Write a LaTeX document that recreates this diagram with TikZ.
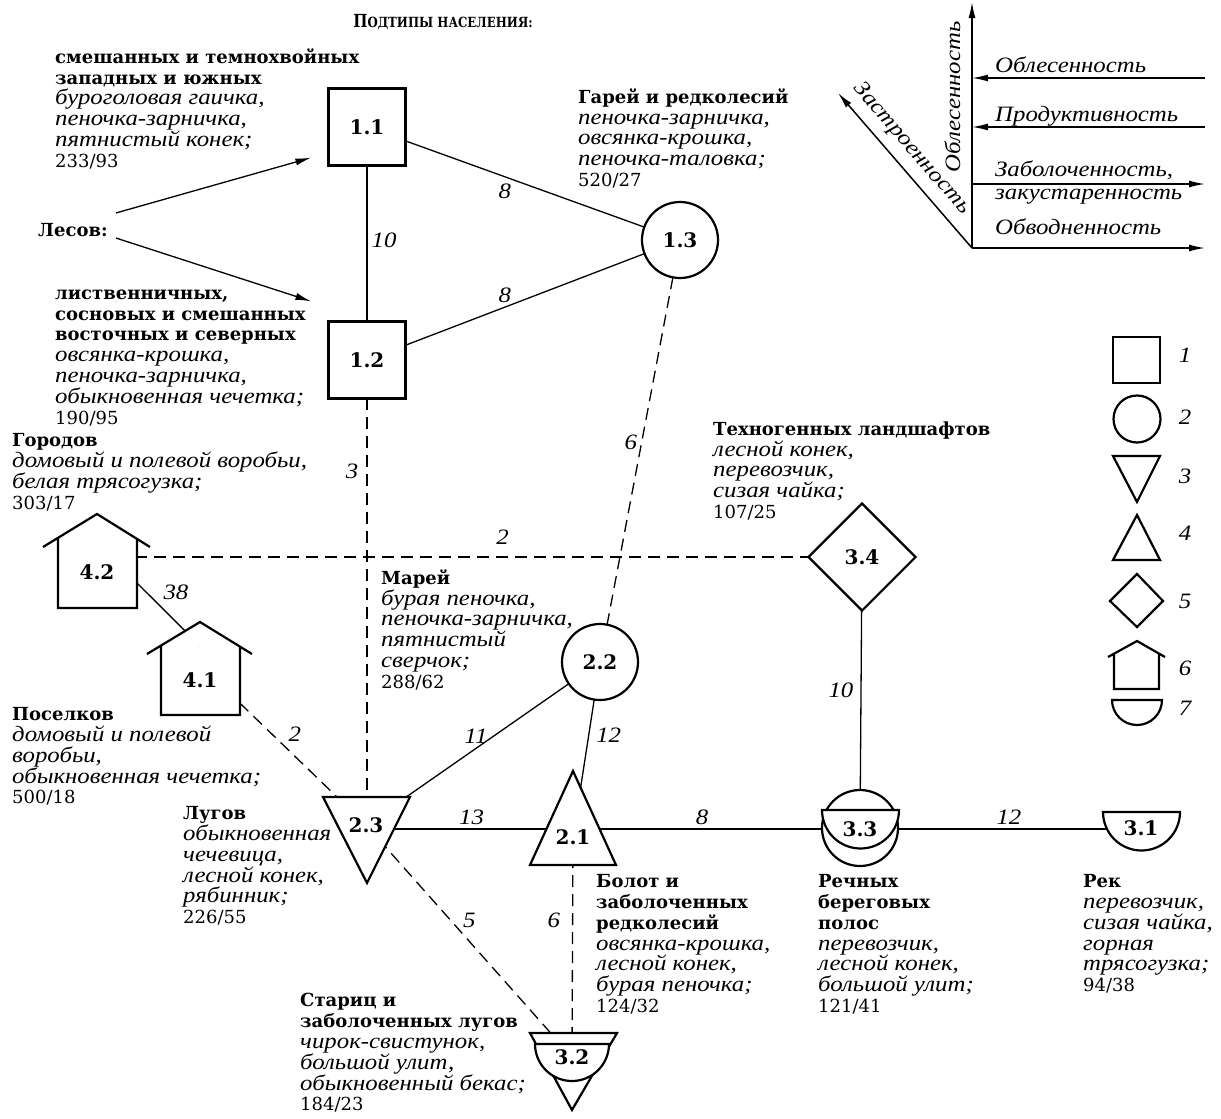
\documentclass[tikz,border=0pt]{standalone}
\usepackage{fontspec}
\setmainfont{DejaVu Serif}[ItalicFont={Liberation Serif Italic},
  ItalicFeatures={Scale=1.22, FakeStretch=1.13}]
\newfontfamily\ttlfont{DejaVu Serif}[FakeStretch=0.84]
\usetikzlibrary{shapes.geometric}
\usetikzlibrary{arrows.meta}
\usetikzlibrary{backgrounds}

\tikzset{
  shp/.style={line width=2.2pt, fill=white},
  conn/.style={line width=1.3pt},
  broken/.style={conn, dash pattern=on 12pt off 7pt},
  axisline/.style={line width=1.5pt, -{Latex[length=16pt,width=7pt]}},
  lbl/.style={font=\fontsize{20}{24}\selectfont\bfseries, inner sep=0pt},
  sq/.style={shp, draw, rectangle, minimum size=77pt, lbl},
  circ/.style={shp, draw, circle, minimum size=76pt, lbl},
  dmd/.style={shp, draw, diamond, minimum size=108pt, lbl},
  txt/.style={align=left, anchor=north west, inner sep=0pt,
    font=\fontsize{18}{20.8}\selectfont, execute at begin node=\strut},
  wt/.style={font=\fontsize{18}{20.8}\selectfont\itshape, inner sep=4pt},
  ax/.style={font=\fontsize{18}{23}\selectfont\itshape, inner sep=0pt},
}

\begin{document}
\begin{tikzpicture}[x=1pt, y=-1pt]
  \useasboundingbox (0,0) rectangle (1221,1119);

  \node[font=\ttlfont\bfseries] (title) at (443,22)
    {\fontsize{18}{20}\selectfont П\fontsize{14}{16}\selectfont ОДТИПЫ НАСЕЛЕНИЯ:};

  % subtypes
  \node[sq] (n11) at (367,127) {1.1};
  \node[sq] (n12) at (367,360) {1.2};
  \node[circ] (n13) at (680,240) {1.3};
  \node[circ] (n22) at (600,662) {2.2};
  \node[dmd] (n34) at (862,557) {3.4};

  \draw[shp] (323,797) -- (410,797) -- (367,883) -- cycle;
  \node[lbl] (n23) at (366,825) {2.3};
  \draw[shp] (573,771) -- (616,865) -- (530,865) -- cycle;
  \node[lbl] (n21) at (573,837) {2.1};

  \draw[shp] (860,828) circle (38);
  \draw[shp] (822,810) -- (899,810) arc (0:180:38.5) -- cycle;
  \node[lbl] (n33) at (860,829) {3.3};
  \draw[shp] (1103,812) -- (1180,812) arc (0:180:38.5) -- cycle;
  \node[lbl] (n31) at (1141,828) {3.1};
  \draw[shp] (530,1033) -- (617,1033) -- (572,1110) -- cycle;
  \draw[shp] (535,1044) -- (609,1044) arc (0:180:37) -- cycle;
  \node[lbl] (n32) at (572,1057) {3.2};

  \draw[shp] (43,547) -- (97,514) -- (150,547) (58,538) -- (58,608) -- (137,608) -- (137,538);
  \node[lbl, minimum width=79pt, minimum height=70pt] (n42) at (97,572) {4.2};
  \draw[shp] (147,654) -- (200,622) -- (252,654) (161,646) -- (161,715) -- (240,715) -- (240,646);
  \node[lbl, minimum width=79pt, minimum height=68pt] (n41) at (200,680) {4.1};

  % links
  \begin{scope}[on background layer]
    \draw[conn] (n11.center) -- node[wt, pos=.485, right] {10} (n12.center);
    \draw[conn] (n11.center) -- node[wt, pos=.44, below=3pt] {8} (n13.center);
    \draw[conn] (n12.center) -- node[wt, pos=.44, above] {8} (n13.center);
    \draw[broken] (n13.center) -- node[wt, pos=.48, left] {6} (n22.center);
    \draw[broken] (n12.center) -- node[wt, pos=.24, left=4pt] {3} (n12.center |- n23.center);
    \draw[broken] (n42.center |- n34.center) -- node[wt, pos=.53, above=8pt] {2} (n34.center);
    \draw[conn] (n42.-15) -- node[wt, pos=.35, above right] {38} (n41.north);
    \draw[broken] (n41.-30) -- node[wt, pos=.35, above right] {2} (n23.center);
    \draw[conn] (n22.center) -- node[wt, pos=.53, above] {11} (n23.center);
    \draw[conn] (n22.center) -- node[wt, pos=.42, right=3pt] {12} (n21.center);
    \draw[conn] (n23.center |- n33.center) -- node[wt, pos=.51, above] {13} (n21.center |- n33.center);
    \draw[conn] (n21.center |- n33.center) -- node[wt, pos=.45, above] {8} (n33.center);
    \draw[conn] (n33.center) -- node[wt, pos=.53, above] {12} (n31.center |- n33.center);
    \draw[conn] (n34.center) -- node[wt, pos=.49, left=3pt] {10} (n33.center);
    \draw[broken] (n23.center) -- node[wt, pos=.41, right=8pt] {5} (n32.center);
    \draw[broken] (n21.center) -- node[wt, pos=.38, left=8pt] {6} (n32.center);
  \end{scope}

  % forests
  \node[txt] (les) at (38,221.4) {\textbf{Лесов:}};
  \draw[conn, -{Latex[length=16pt,width=7pt]}] ([shift={(8pt,19pt)}]les.east) -- ([shift={(-16pt,9pt)}]n11.south west);
  \draw[conn, -{Latex[length=16pt,width=7pt]}] ([shift={(8pt,-6pt)}]les.east) -- ([shift={(-16pt,19pt)}]n12.north west);

  % captions
  \node[txt] (t11) at (55,48.4) {\textbf{смешанных и темнохвойных}\\ \textbf{западных и южных}\\
    \textit{буроголовая гаичка,}\\ \textit{пеночка-зарничка,}\\ \textit{пятнистый конек;}\\ 233/93};
  \node[txt] (t12) at (55,289.4) {\textbf{лиственничных,}\\ \textbf{сосновых и смешанных}\\
    \textbf{восточных и северных}\\ \textit{овсянка-крошка,}\\ \textit{пеночка-зарничка,}\\
    \textit{обыкновенная чечетка;}\\ 190/95};
  \node[txt] (tgor) at (12,433.4) {\textbf{Городов}\\ \textit{домовый и полевой воробьи,}\\
    \textit{белая трясогузка;}\\ 303/17};
  \node[txt] (tgar) at (578,88.4) {\textbf{Гарей и редколесий}\\ \textit{пеночка-зарничка,}\\
    \textit{овсянка-крошка,}\\ \textit{пеночка-таловка;}\\ 520/27};
  \node[txt] (ttech) at (713,421.4) {\textbf{Техногенных ландшафтов}\\ \textit{лесной конек,}\\
    \textit{перевозчик,}\\ \textit{сизая чайка;}\\ 107/25};
  \node[txt] (tmar) at (381,569.4) {\textbf{Марей}\\ \textit{бурая пеночка,}\\
    \textit{пеночка-зарничка,}\\ \textit{пятнистый}\\ \textit{сверчок;}\\ 288/62};
  \node[txt] (tpos) at (12,707.4) {\textbf{Поселков}\\ \textit{домовый и полевой}\\
    \textit{воробьи,}\\ \textit{обыкновенная чечетка;}\\ 500/18};
  \node[txt] (tlug) at (183,806.4) {\textbf{Лугов}\\ \textit{обыкновенная}\\
    \textit{чечевица,}\\ \textit{лесной конек,}\\ \textit{рябинник;}\\ 226/55};
  \node[txt] (tbol) at (596,874.4) {\textbf{Болот и}\\ \textbf{заболоченных}\\ \textbf{редколесий}\\
    \textit{овсянка-крошка,}\\ \textit{лесной конек,}\\ \textit{бурая пеночка;}\\ 124/32};
  \node[txt] (trech) at (818,874.4) {\textbf{Речных}\\ \textbf{береговых}\\ \textbf{полос}\\
    \textit{перевозчик,}\\ \textit{лесной конек,}\\ \textit{большой улит;}\\ 121/41};
  \node[txt] (trek) at (1083,874.4) {\textbf{Рек}\\ \textit{перевозчик,}\\ \textit{сизая чайка,}\\
    \textit{горная}\\ \textit{трясогузка;}\\ 94/38};
  \node[txt] (tstar) at (300,993.4) {\textbf{Стариц и}\\ \textbf{заболоченных лугов}\\
    \textit{чирок-свистунок,}\\ \textit{большой улит,}\\ \textit{обыкновенный бекас;}\\ 184/23};

  % gradients
  \coordinate (o) at (972,248);
  \coordinate (oN) at (972,2);
  \coordinate (oE) at (1205,248);
  \coordinate (oNW) at (838,93);
  \coordinate (r1) at (1205,78);
  \coordinate (r2) at (1205,127);
  \coordinate (r3) at (1205,184);
  \draw[axisline] (o) -- (oN);
  \draw[axisline] (o) -- (oE);
  \draw[axisline] (o) -- node[ax, sloped, pos=.56, above=9pt] {Застроенность} (oNW);
  \draw[axisline] (r1) -- (o |- r1);
  \draw[axisline] (r2) -- (o |- r2);
  \draw[axisline] (o |- r3) -- (r3);
  \node[ax, rotate=90, anchor=base] (tvert) at (960,97) {Облесенность};
  \node[ax, anchor=base west] (tobl) at (995,72) {Облесенность};
  \node[ax, anchor=base west] (tprod) at (995,121) {Продуктивность};
  \node[ax, align=left, anchor=north west, execute at begin node=\strut] (tzab) at (995,160.9)
    {Заболоченность,\\ закустаренность};
  \node[ax, anchor=base west] (tobv) at (995,234) {Обводненность};

  % legend
  \draw[shp] (1113,337) rectangle (1160,383);
  \draw[shp] (1137,419) circle (23.5);
  \draw[shp] (1113,456) -- (1160,456) -- (1137,502) -- cycle;
  \draw[shp] (1137,515) -- (1160,560) -- (1113,560) -- cycle;
  \draw[shp] (1137,574) -- (1163,601) -- (1137,627) -- (1110,601) -- cycle;
  \draw[shp] (1108,657) -- (1137,641) -- (1165,657) (1114,654) -- (1114,689) -- (1159,689) -- (1159,654);
  \draw[shp] (1112,700) -- (1162,700) arc (0:180:25) -- cycle;
  \node[wt] (l1) at (1185,355) {1};
  \node[wt] (l2) at (1185,417) {2};
  \node[wt] (l3) at (1185,476) {3};
  \node[wt] (l4) at (1185,533) {4};
  \node[wt] (l5) at (1185,601) {5};
  \node[wt] (l6) at (1185,668) {6};
  \node[wt] (l7) at (1185,708) {7};
\end{tikzpicture}
\end{document}
